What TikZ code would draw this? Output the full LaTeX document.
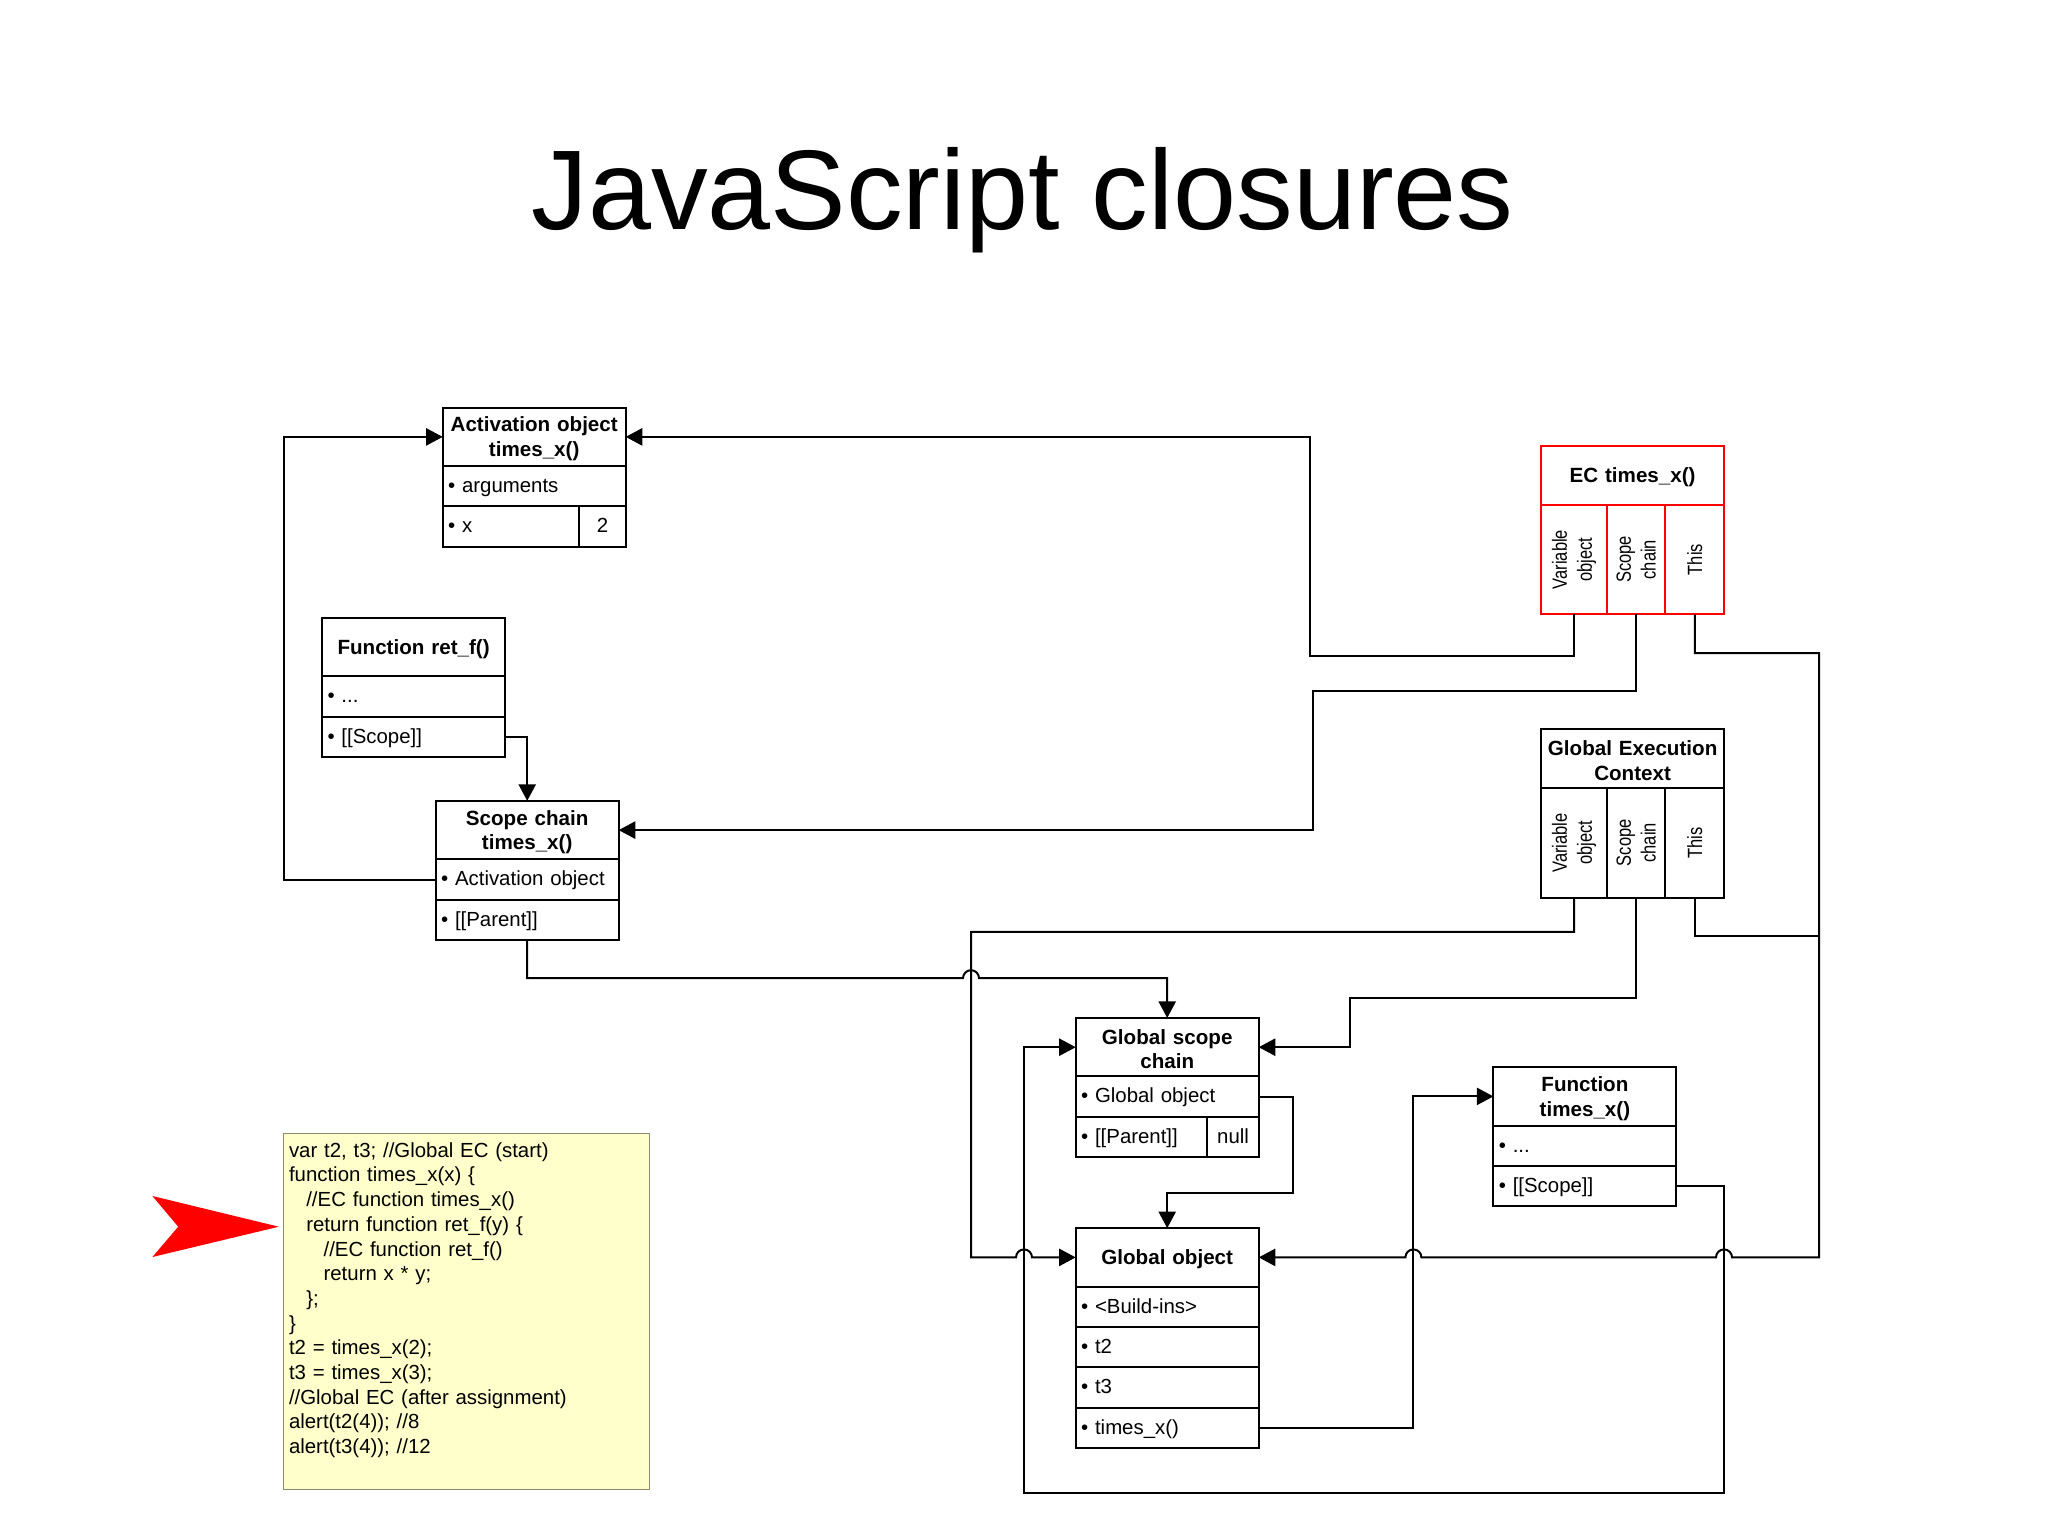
\documentclass[tikz,border=0pt]{standalone}
\usepackage{fontspec}
\setmainfont{Liberation Sans}
\newfontfamily\narrowfont[FakeStretch=0.8]{Liberation Sans}
\usetikzlibrary{positioning,arrows.meta}
\definecolor{codeyellow}{HTML}{FFFFCC}
\definecolor{codeline}{HTML}{8A8A70}
\begin{document}
\begin{tikzpicture}[x=0.5pt, y=-0.5pt, >={Triangle[length=8.3pt,width=8.6pt]}, line width=1pt,
	every node/.style={outer sep=0pt},
	head/.style = {draw, align=center, text width=91.5pt, minimum height=29.25pt, inner sep=0pt, font=\fontsize{10.3}{12.4}\selectfont\bfseries, execute at end node={\endgraf\vspace*{-2pt}}},
	row/.style = {draw, align=left, text width=86.1pt, inner xsep=2.7pt, inner ysep=0pt, minimum height=20.15pt, text height=8.1pt, text depth=1.8pt, font=\fontsize{10.2}{12.4}\selectfont},
	val/.style = {draw, align=center, inner sep=0pt, minimum height=20.15pt, text height=8.1pt, text depth=1.8pt, font=\fontsize{10.2}{12.4}\selectfont},
	vcell/.style = {draw, rotate=90, align=center, inner sep=0pt, minimum width=54.7pt, font=\narrowfont\fontsize{10.3}{12.4}\selectfont},
	codebox/.style = {draw=codeline, fill=codeyellow, line width=0.7pt, align=left, text width=177.45pt, inner xsep=2.7pt, inner ysep=0pt, minimum height=178pt, font=\fontsize{10.2}{12.35}\selectfont, execute at end node={\endgraf\vspace*{1pt}}}]
	\useasboundingbox (0,0) rectangle (2048,1535);
	\node[font=\fontsize{56.65}{60}\selectfont, anchor=base] (title) at (1022.5,229.5) {JavaScript closures};

	\node[head] (actHead) at (534.2,436.9) {Activation object\\times\_x()};
	\node[row] (actArgs) [below=0pt of actHead] {• arguments};
	\node[row, text width=62.9pt] (actX) [below right=0pt and 0pt of actArgs.south west] {• x};
	\node[val, minimum width=23.2pt] (actVal) [right=0pt of actX] {2};

	\node[head] (retHead) at (413.6,647.1) {Function ret\_f()};
	\node[row] (retDots) [below=0pt of retHead] {• ...};
	\node[row] (retScope) [below=0pt of retDots] {• [[Scope]]};

	\node[head] (scopeHead) at (527.2,830.1) {Scope chain\\times\_x()};
	\node[row] (scopeAct) [below=0pt of scopeHead] {• Activation object};
	\node[row] (scopeParent) [below=0pt of scopeAct] {• [[Parent]]};

	\node[head, draw=red] (ecHead) at (1632.6,475.5) {EC times\_x()};
	\node[vcell, draw=red, minimum height=33pt] (ecVar) at (1574,559.6) {Variable\\object};
	\node[vcell, draw=red, minimum height=29.15pt] (ecScope) at (1636.1,559.6) {Scope\\chain};
	\node[vcell, draw=red, minimum height=29.5pt] (ecThis) at (1694.8,559.6) {This};

	\node[head] (gecHead) at (1632.6,758.6) {Global Execution\\Context};
	\node[vcell, minimum height=33pt] (gecVar) at (1574,842.8) {Variable\\object};
	\node[vcell, minimum height=29.15pt] (gecScope) at (1636.1,842.8) {Scope\\chain};
	\node[vcell, minimum height=29.5pt] (gecThis) at (1694.8,842.8) {This};

	\node[head] (gsHead) at (1167.2,1047.2) {Global scope\\chain};
	\node[row] (gsObj) [below=0pt of gsHead] {• Global object};
	\node[row, text width=60.45pt] (gsParent) [below right=0pt and 0pt of gsObj.south west] {• [[Parent]]};
	\node[val, minimum width=25.65pt] (gsNull) [right=0pt of gsParent] {null};

	\node[head] (goHead) at (1167.2,1257.4) {Global object};
	\node[row] (goBuild) [below=0pt of goHead] {• <Build-ins>};
	\node[row] (goT2) [below=0pt of goBuild] {• t2};
	\node[row] (goT3) [below=0pt of goT2] {• t3};
	\node[row] (goTimes) [below=0pt of goT3] {• times\_x()};

	\node[head] (ftHead) at (1584.9,1096.4) {Function\\times\_x()};
	\node[row] (ftDots) [below=0pt of ftHead] {• ...};
	\node[row] (ftScope) [below=0pt of ftDots] {• [[Scope]]};

	\node[codebox, anchor=north west] (code) at (283.6,1133.4) {var t2, t3; //Global EC (start)\\
		function times\_x(x) \{\\
		\hspace*{8.65pt}//EC function times\_x()\\
		\hspace*{8.65pt}return function ret\_f(y) \{\\
		\hspace*{17.3pt}//EC function ret\_f()\\
		\hspace*{17.3pt}return x * y;\\
		\hspace*{8.65pt}\};\\
		\}\\
		t2 = times\_x(2);\\
		t3 = times\_x(3);\\
		//Global EC (after assignment)\\
		alert(t2(4)); //8\\
		alert(t3(4)); //12\\
		~};
	\fill[red] (152.4,1196) -- (278.8,1226.7) -- (152.4,1257) -- (178.2,1226.7) -- cycle;

	\draw[->] (scopeAct.west) -| (284,650) |- (actHead.west);
	\draw[->] (retScope.east) -| (scopeHead.north);
	\draw[->] (ecVar.west) |- (1310,656) |- (actHead.east);
	\draw[->] (ecScope.west) |- (1313,691.4) |- (scopeHead.east);
	\draw[->] (scopeParent.south) |- (963,978.2) arc[start angle=180, end angle=0, radius=4pt] -| (gsHead.north);
	\draw[->] (gecVar.west) |- (971,931.9) -- (971,1257.4) -- (1016,1257.4) arc[start angle=180, end angle=0, radius=4pt] -- (goHead.west);
	\draw[->] (gecScope.west) |- (1350,997.9) |- (gsHead.east);
	\draw (gecThis.west) |- (1819,935.7);
	\draw[->] (ecThis.west) |- (1819,653.2) -- (1819,1257.4) -- (1732,1257.4) arc[start angle=0, end angle=180, radius=4pt] -- (1421.4,1257.4) arc[start angle=0, end angle=180, radius=4pt] -- (goHead.east);
	\draw[->] (gsObj.east) -| (1293.3,1193.2) -| (goHead.north);
	\draw[->] (goTimes.east) -| (1413.4,1096.4) -- (ftHead.west);
	\draw[->] (ftScope.east) -| (1724,1493.2) -- (1024,1493.2) |- (gsHead.west);
\end{tikzpicture}
\end{document}
